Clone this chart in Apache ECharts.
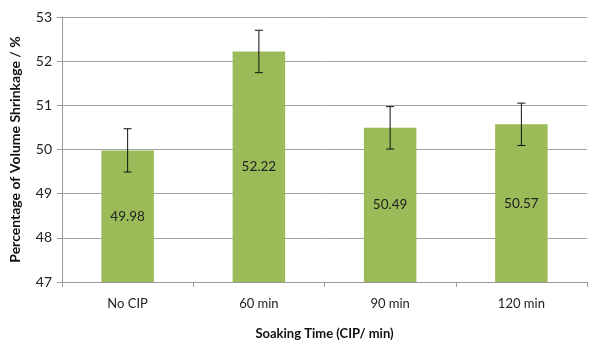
<!DOCTYPE html>
<html><head><meta charset="utf-8">
<script src="https://cdn.jsdelivr.net/npm/echarts@6/dist/echarts.min.js"></script>
<style>html,body{margin:0;padding:0;background:#fff}#c{width:592px;height:345px}</style>
</head><body><div id="c"></div>
<script>
var categories = ['No CIP', '60 min', '90 min', '120 min'];
var values = [49.98, 52.22, 50.49, 50.57];
var errors = [0.49, 0.48, 0.48, 0.48];
var yTicks = [47, 48, 49, 50, 51, 52, 53];

var chart = echarts.init(document.getElementById('c'), null, {renderer: 'canvas'});
var FONT = 'Lato, "Open Sans", sans-serif';
chart.setOption({
  animation: false,
  grid: {left: 55, right: 5, top: 17, bottom: 60, containLabel: false},
  xAxis: {
    type: 'category', data: categories,
    axisLine: {lineStyle: {color: '#9a9a9a', width: 1}},
    axisTick: {show: true, length: 5, lineStyle: {color: '#9a9a9a'}},
    axisLabel: {color: '#222', fontFamily: FONT, fontSize: 13, margin: 15},
    name: 'Soaking Time (CIP/ min)', nameLocation: 'middle', nameGap: 45,
    nameTextStyle: {color: '#111', fontFamily: FONT, fontSize: 13, fontWeight: 'bold'}
  },
  yAxis: {
    type: 'value', min: yTicks[0], max: yTicks[yTicks.length - 1], interval: 1,
    axisLine: {show: true, lineStyle: {color: '#9a9a9a'}},
    axisTick: {show: true, length: 5, lineStyle: {color: '#9a9a9a'}},
    splitLine: {lineStyle: {color: '#a0a0a0', width: 1}},
    axisLabel: {color: '#222', fontFamily: FONT, fontSize: 14, margin: 10},
    name: 'Percentage of Volume Shrinkage / %', nameLocation: 'middle', nameGap: 40,
    nameTextStyle: {color: '#111', fontFamily: FONT, fontSize: 14, fontWeight: 'bold'}
  },
  series: [{
    type: 'bar', data: values, barWidth: '40%',
    itemStyle: {color: '#9BBB59'},
    label: {show: true, position: 'inside', color: '#222', fontFamily: FONT, fontSize: 13.5,
      formatter: function (p) { return p.value.toFixed(2); }}
  }, {
    type: 'custom',
    data: values.map(function (v, i) { return [i, v - errors[i], v + errors[i]]; }),
    encode: {x: 0, y: [1, 2]},
    z: 10,
    renderItem: function (params, api) {
      var lo = api.coord([api.value(0), api.value(1)]);
      var hi = api.coord([api.value(0), api.value(2)]);
      var w = 4;
      var style = {stroke: '#111', lineWidth: 1};
      return {type: 'group', children: [
        {type: 'line', shape: {x1: hi[0], y1: hi[1], x2: lo[0], y2: lo[1]}, style: style},
        {type: 'line', shape: {x1: hi[0] - w, y1: hi[1], x2: hi[0] + w, y2: hi[1]}, style: style},
        {type: 'line', shape: {x1: lo[0] - w, y1: lo[1], x2: lo[0] + w, y2: lo[1]}, style: style}
      ]};
    }
  }]
});
</script></body></html>
